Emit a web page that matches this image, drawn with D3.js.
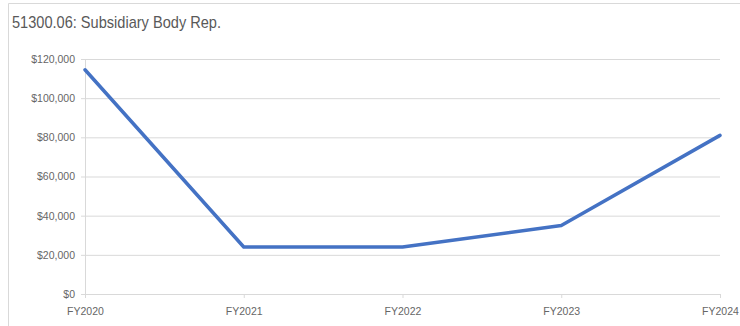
<!DOCTYPE html>
<html>
<head>
<meta charset="utf-8">
<script src="https://cdn.jsdelivr.net/npm/d3@7"></script>
<style>
  html, body { margin: 0; padding: 0; background: #fff; }
  svg { display: block; }
</style>
</head>
<body>
<svg id="chart" width="740" height="326"></svg>
<script>
const title = "51300.06: Subsidiary Body Rep.";
const categories = ["FY2020", "FY2021", "FY2022", "FY2023", "FY2024"];
const values = [114500, 24000, 24000, 35000, 81000];
const yTicks = [0, 20000, 40000, 60000, 80000, 100000, 120000];

const svg = d3.select("#chart");
const W = 740, H = 326;
const margin = { left: 85, right: 20, top: 59, bottom: 32 };

// outer frame (top and left borders)
svg.append("line").attr("x1", 8.5).attr("x2", W).attr("y1", 3.5).attr("y2", 3.5)
  .attr("stroke", "#d9d9d9").attr("stroke-width", 1);
svg.append("line").attr("x1", 8.5).attr("x2", 8.5).attr("y1", 3.5).attr("y2", H)
  .attr("stroke", "#d9d9d9").attr("stroke-width", 1);

svg.append("text").attr("x", 12).attr("y", 28)
  .attr("font-family", "Liberation Sans, Arial, sans-serif")
  .attr("font-size", 17).attr("fill", "#595959")
  .attr("textLength", 209).attr("lengthAdjust", "spacingAndGlyphs")
  .text(title);

const x = d3.scalePoint().domain(categories).range([margin.left, W - margin.right]);
const y = d3.scaleLinear().domain([0, 120000]).range([H - margin.bottom, margin.top]);

const fmt = d => "$" + d3.format(",")(d);

// gridlines + y ticks
const yAxis = d3.axisLeft(y).tickValues(yTicks).tickFormat(fmt)
  .tickSize(-(W - margin.right - margin.left)).tickPadding(10);
const gy = svg.append("g").attr("transform", `translate(${margin.left},0)`).call(yAxis);
gy.select(".domain").remove();
gy.selectAll(".tick line").attr("stroke", "#d9d9d9").attr("x1", -4);
gy.selectAll(".tick text").attr("fill", "#666666")
  .attr("font-family", "Liberation Sans, Arial, sans-serif").attr("font-size", 10.5);

// y axis vertical line
svg.append("line").attr("x1", margin.left + 0.5).attr("x2", margin.left + 0.5)
  .attr("y1", y(120000)).attr("y2", y(0) + 4).attr("stroke", "#d9d9d9");

// x axis
const xAxis = d3.axisBottom(x).tickSize(4).tickPadding(10);
const gx = svg.append("g").attr("transform", `translate(0,${y(0)})`).call(xAxis);
gx.select(".domain").attr("stroke", "#d9d9d9").attr("d", `M${margin.left},0.5H${W - margin.right}`);
gx.selectAll(".tick line").attr("stroke", "#d9d9d9");
gx.selectAll(".tick text").attr("fill", "#666666")
  .attr("font-family", "Liberation Sans, Arial, sans-serif").attr("font-size", 10.5);

// line
const line = d3.line().x((d, i) => x(categories[i])).y(d => y(d));
svg.append("path").datum(values).attr("d", line)
  .attr("fill", "none").attr("stroke", "#4472c4").attr("stroke-width", 3.5)
  .attr("stroke-linejoin", "round").attr("stroke-linecap", "round");
</script>
</body>
</html>
